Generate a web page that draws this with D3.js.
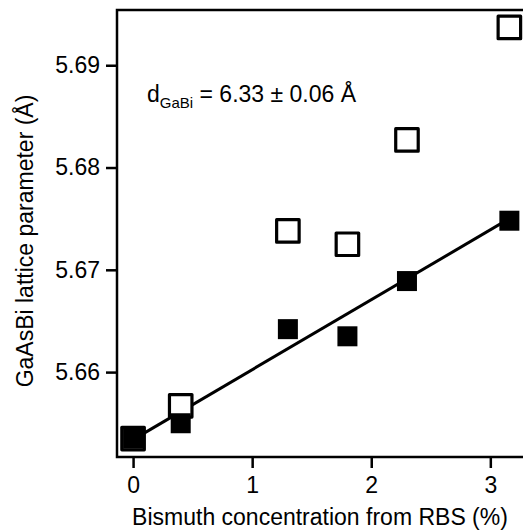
<!DOCTYPE html>
<html>
<head>
<meta charset="utf-8">
<script src="https://cdn.jsdelivr.net/npm/d3@7"></script>
<style>
  html, body { margin: 0; padding: 0; background: #fff; }
  svg { display: block; font-family: "Liberation Sans", Arial, Helvetica, sans-serif; }
</style>
</head>
<body>
<svg id="chart" width="523" height="531"></svg>
<script>
// ---- Data ----
const bismuthPct   = [0, 0.4, 1.3, 1.8, 2.3, 3.16];
const latticeFilled = [5.6535, 5.6550, 5.6642, 5.6635, 5.6689, 5.6748];
const latticeOpen   = [5.6535, 5.6567, 5.6738, 5.6725, 5.6827, 5.6937];
const fitX = [0, 3.16];
const fitY = [5.6534, 5.6750];
const xTicks = [0, 1, 2, 3];
const yTicks = [5.66, 5.67, 5.68, 5.69];
const xLabel = "Bismuth concentration from RBS (%)";
const yLabel = "GaAsBi lattice parameter (Å)";

// ---- Layout ----
const svg = d3.select("#chart");
const L = 117, R = 532, T = 10, B = 457;
const x = d3.scaleLinear().domain([-0.135, 3.35]).range([L, R]);
const y = d3.scaleLinear().domain([5.6517, 5.6954]).range([B, T]);
const fontSize = 23;

// frame (right side lies beyond the visible page)
svg.append("rect")
  .attr("x", L).attr("y", T).attr("width", R - L).attr("height", B - T)
  .attr("fill", "none").attr("stroke", "#000").attr("stroke-width", 2.5);

// axes
const xAxis = d3.axisBottom(x).tickValues(xTicks).tickFormat(d3.format("d"))
  .tickSize(11).tickPadding(5);
const yAxis = d3.axisLeft(y).tickValues(yTicks).tickFormat(d3.format(".2f"))
  .tickSize(11).tickPadding(6);

const gx = svg.append("g").attr("transform", `translate(0,${B})`).call(xAxis);
const gy = svg.append("g").attr("transform", `translate(${L},0)`).call(yAxis);
[gx, gy].forEach(g => {
  g.select(".domain").remove();
  g.selectAll(".tick line").attr("stroke", "#000").attr("stroke-width", 2.5);
  g.selectAll(".tick text").attr("fill", "#000").style("font-size", fontSize + "px")
    .style("font-family", "'Liberation Sans', Arial, sans-serif");
});
gx.selectAll(".tick text").attr("dy", "0.85em");

// axis labels
svg.append("text")
  .attr("x", (128 + 512) / 2).attr("y", 525)
  .attr("text-anchor", "middle").style("font-size", fontSize + "px")
  .text(xLabel);
svg.append("text")
  .attr("transform", `translate(33,${241}) rotate(-90)`)
  .attr("text-anchor", "middle").style("font-size", fontSize + "px")
  .text(yLabel);

// fit line
const pts = fitX.map((v, i) => [v, fitY[i]]);
svg.append("path")
  .attr("d", d3.line().x(d => x(d[0])).y(d => y(d[1]))(pts))
  .attr("fill", "none").attr("stroke", "#000").attr("stroke-width", 3);

// open squares
const openSize = 22.5;
svg.append("g").selectAll("rect").data(bismuthPct.map((v, i) => [v, latticeOpen[i]]))
  .join("rect")
  .attr("x", d => x(d[0]) - openSize / 2).attr("y", d => y(d[1]) - openSize / 2)
  .attr("width", openSize).attr("height", openSize)
  .attr("fill", "#fff").attr("stroke", "#000").attr("stroke-width", 3.2)
  .attr("stroke-linejoin", "round");

// filled squares
const filledSize = 20;
svg.append("g").selectAll("rect").data(bismuthPct.map((v, i) => [v, latticeFilled[i]]))
  .join("rect")
  .attr("x", d => x(d[0]) - filledSize / 2).attr("y", d => y(d[1]) - filledSize / 2)
  .attr("width", filledSize).attr("height", filledSize)
  .attr("fill", "#000");

// annotation
const ann = svg.append("text").attr("x", 147).attr("y", 102).style("font-size", "23px");
ann.append("tspan").text("d");
ann.append("tspan").attr("dy", 6).style("font-size", "15px").text("GaBi");
ann.append("tspan").attr("dy", -6).text(" = 6.33 ± 0.06 Å");
</script>
</body>
</html>
